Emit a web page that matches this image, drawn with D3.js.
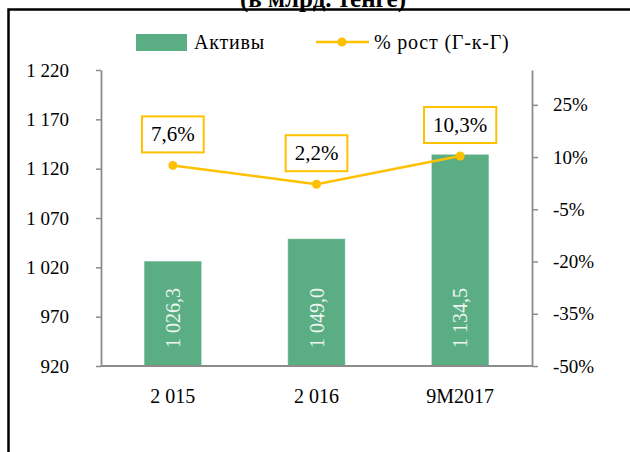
<!DOCTYPE html>
<html>
<head>
<meta charset="utf-8">
<script src="https://cdn.jsdelivr.net/npm/d3@7"></script>
<style>
  body { margin: 0; background: #fff; }
  svg text { font-family: "Liberation Serif", "Times New Roman", serif; }
</style>
</head>
<body>
<div id="chart"></div>
<script>
// data
var categories = ["2 015", "2 016", "9M2017"];
var assets = [1026.3, 1049.0, 1134.5];
var assetLabels = ["1 026,3", "1 049,0", "1 134,5"];
var growth = [7.6, 2.2, 10.3];
var growthLabels = ["7,6%", "2,2%", "10,3%"];
var leftTicks = [920, 970, 1020, 1070, 1120, 1170, 1220];
var rightTicks = [-50, -35, -20, -5, 10, 25];

var W = 630, H = 452;
var green = "#5BAE84", gold = "#FFC000", axisGrey = "#8C8C8C";

var svg = d3.select("#chart").append("svg")
	.attr("width", W)
	.attr("height", H);

svg.append("rect").attr("width", W).attr("height", H).attr("fill", "#fff");

// plot area
var plotL = 101, plotR = 532, plotT = 70, plotB = 366;

var x = d3.scaleBand().domain(categories).range([plotL, plotR])
	.paddingInner(0.6).paddingOuter(0.3);
var yL = d3.scaleLinear().domain([920, 1220]).range([plotB, plotT]);
var yR = d3.scaleLinear().domain([-50, 35]).range([plotB, plotT]);

// title (cut off at top) and frame
svg.append("text")
	.attr("x", 323).attr("y", 7)
	.attr("text-anchor", "middle")
	.attr("font-weight", "bold")
	.attr("font-size", 25)
	.text("(в млрд. тенге)");

svg.append("path")
	.attr("d", "M8.5," + H + "V9.5H" + W)
	.attr("fill", "none")
	.attr("stroke", "#000")
	.attr("stroke-width", 2.5);

// legend
var lg = svg.append("g").attr("font-size", 20).attr("fill", "#000").attr("letter-spacing", 0.8);
lg.append("rect").attr("x", 136).attr("y", 34).attr("width", 51).attr("height", 17).attr("fill", green);
lg.append("text").attr("x", 194).attr("y", 49).text("Активы");
lg.append("line").attr("x1", 316).attr("x2", 369).attr("y1", 42).attr("y2", 42)
	.attr("stroke", gold).attr("stroke-width", 2.5);
lg.append("circle").attr("cx", 342).attr("cy", 42).attr("r", 4.5).attr("fill", gold);
lg.append("text").attr("x", 374).attr("y", 49).text("% рост (Г-к-Г)");

// bars
svg.selectAll("rect.bar").data(assets).enter().append("rect")
	.attr("class", "bar")
	.attr("x", function (d, i) { return x(categories[i]); })
	.attr("width", x.bandwidth())
	.attr("y", function (d) { return yL(d); })
	.attr("height", function (d) { return plotB - yL(d); })
	.attr("fill", green)
	.attr("stroke", "rgba(255,255,255,0.35)")
	.attr("stroke-width", 1);

svg.selectAll("text.barlab").data(assetLabels).enter().append("text")
	.attr("class", "barlab")
	.attr("transform", function (d, i) {
		return "translate(" + (x(categories[i]) + x.bandwidth() / 2 + 7) + "," + (plotB - 18) + ") rotate(-90)";
	})
	.attr("font-size", 20)
	.attr("fill", "#EEF6F1")
	.text(function (d) { return d; });

// axes
var axL = svg.append("g").attr("transform", "translate(" + plotL + ",0)")
	.call(d3.axisLeft(yL).tickValues(leftTicks).tickSize(5).tickSizeOuter(0).tickPadding(27)
		.tickFormat(function (d) { return d3.format(",")(d).replace(",", " "); }));
var axR = svg.append("g").attr("transform", "translate(" + plotR + ",0)")
	.call(d3.axisRight(yR).tickValues(rightTicks).tickSize(6).tickSizeOuter(0).tickPadding(15)
		.tickFormat(function (d) { return d + "%"; }));
[axL, axR].forEach(function (ax) {
	ax.attr("font-family", null).attr("font-size", null);
	ax.select(".domain").attr("stroke", axisGrey).attr("stroke-width", 1.8);
	ax.selectAll(".tick line").attr("stroke", axisGrey).attr("stroke-width", 1.5);
	ax.selectAll(".tick text").style("font-size", "19px").attr("fill", "#000");
});

svg.append("line")
	.attr("x1", plotL).attr("x2", plotR).attr("y1", plotB).attr("y2", plotB)
	.attr("stroke", axisGrey).attr("stroke-width", 1.8);

svg.selectAll("text.cat").data(categories).enter().append("text")
	.attr("class", "cat")
	.attr("x", function (d) { return x(d) + x.bandwidth() / 2; })
	.attr("y", 403)
	.attr("text-anchor", "middle")
	.attr("font-size", 20)
	.text(function (d) { return d; });

// growth line
var cx = function (d, i) { return x(categories[i]) + x.bandwidth() / 2; };
var line = d3.line().x(cx).y(function (d) { return yR(d); });

svg.append("path").datum(growth)
	.attr("d", line)
	.attr("fill", "none")
	.attr("stroke", gold)
	.attr("stroke-width", 2.5);

svg.selectAll("circle.pt").data(growth).enter().append("circle")
	.attr("class", "pt")
	.attr("cx", cx)
	.attr("cy", function (d) { return yR(d); })
	.attr("r", 4.5)
	.attr("fill", gold);

// boxed data labels
growth.forEach(function (d, i) {
	var g = svg.append("g").attr("transform", "translate(" + cx(d, i) + "," + (yR(d) - 31) + ")");
	var box = g.append("rect");
	var t = g.append("text")
		.attr("text-anchor", "middle")
		.attr("y", 7)
		.attr("font-size", 21)
		.text(growthLabels[i]);
	var w = t.node().getComputedTextLength() + 18;
	box.attr("x", -w / 2).attr("y", -18).attr("width", w).attr("height", 36)
		.attr("fill", "#fff").attr("stroke", gold).attr("stroke-width", 2);
});
</script>
</body>
</html>
